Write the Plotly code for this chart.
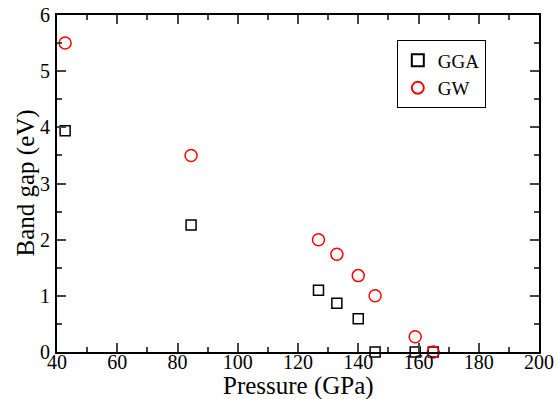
import plotly.graph_objects as go

pressure_gga = [42.7, 84.5, 126.8, 132.9, 140.0, 145.6, 158.9, 164.9]
gap_gga = [3.94, 2.26, 1.10, 0.87, 0.59, 0.0, 0.0, 0.0]
pressure_gw = [42.7, 84.5, 126.8, 132.9, 140.0, 145.6, 158.9, 164.9]
gap_gw = [5.5, 3.5, 2.0, 1.74, 1.36, 1.0, 0.27, 0.0]

x_title = "Pressure (GPa)"
y_title = "Band gap (eV)"

font = "Liberation Serif"

fig = go.Figure()
fig.add_trace(go.Scatter(x=pressure_gga, y=gap_gga, mode="markers", name="GGA",
                         marker=dict(symbol="square-open", size=10, color="black", line=dict(width=1.5)),
                         cliponaxis=False))
fig.add_trace(go.Scatter(x=pressure_gw, y=gap_gw, mode="markers", name="GW",
                         marker=dict(symbol="circle-open", size=12, color="red", line=dict(width=1.5)),
                         cliponaxis=False))

fig.add_annotation(text=x_title, xref="paper", yref="paper", x=0.5, y=0,
                   xanchor="center", yanchor="middle", yshift=-34, showarrow=False,
                   font=dict(family=font, size=25, color="black"))
fig.add_annotation(text=y_title, xref="paper", yref="paper", x=0, y=0.5,
                   xanchor="center", yanchor="middle", xshift=-32, showarrow=False,
                   textangle=-90, font=dict(family=font, size=25, color="black"))

fig.update_layout(
    width=557, height=399,
    margin=dict(l=57, r=18, t=15, b=47),
    plot_bgcolor="white", paper_bgcolor="white",
    font=dict(family=font, color="black", size=18),
    showlegend=True,
    legend=dict(x=0.705, y=0.925, xanchor="left", yanchor="top",
                bordercolor="black", borderwidth=1, bgcolor="white",
                font=dict(family=font, size=19), tracegroupgap=0,
                itemsizing="constant"),
    xaxis=dict(range=[40, 200], dtick=20, ticks="inside", ticklen=9, tickwidth=1.5,
               showline=True, linecolor="black", linewidth=2, mirror="allticks",
               showgrid=False, zeroline=False, automargin=False,
               minor=dict(dtick=10, ticks="inside", ticklen=5, tickwidth=1.5),
               tickfont=dict(family=font, size=20), ticklabelstandoff=-9),
    yaxis=dict(range=[0, 6], dtick=1, ticks="inside", ticklen=9, tickwidth=1.5,
               showline=True, linecolor="black", linewidth=2, mirror="allticks",
               showgrid=False, zeroline=False, automargin=False,
               minor=dict(dtick=0.5, ticks="inside", ticklen=5, tickwidth=1.5),
               tickfont=dict(family=font, size=20), ticklabelstandoff=1),
)

fig.write_html("out.html")
